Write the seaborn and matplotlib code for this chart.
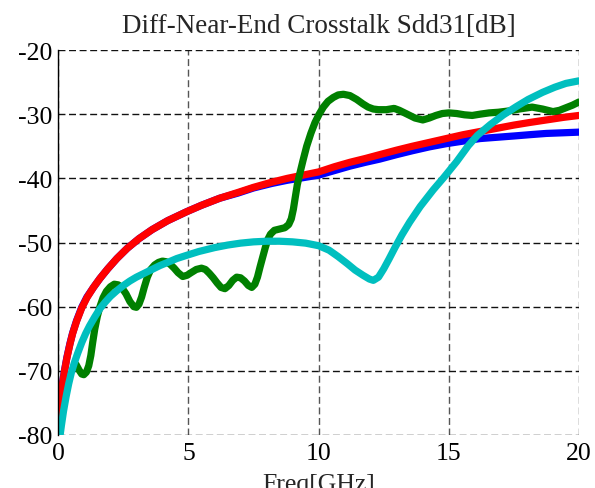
import matplotlib
matplotlib.use("Agg")
import matplotlib.pyplot as plt
import seaborn as sns
import pandas as pd

# Frequency sweep [GHz] and differential near-end crosstalk [dB]
red_freq = [0, 0.02, 0.05, 0.1, 0.17, 0.24, 0.33, 0.45, 0.55, 0.7, 0.9, 1.1, 1.35, 1.6,
            1.9, 2.25, 2.65, 3.1, 3.6, 4.2, 4.93, 5.5, 6.2, 6.9, 7.5, 8.2, 8.8, 9.4,
            10.0, 10.6, 11.2, 11.8, 12.35, 13.0, 13.6, 14.25, 14.9, 15.55, 16.2,
            16.85, 17.5, 18.1, 18.75, 19.4, 20]
red_db = [-80, -78.5, -76.5, -74.3, -71.8, -70.0, -68.0, -65.8, -64.2, -62.3, -60.2,
          -58.6, -57.0, -55.6, -54.1, -52.5, -50.9, -49.4, -48.0, -46.6, -45.2, -44.2,
          -43.1, -42.2, -41.4, -40.6, -40.0, -39.5, -39.0, -38.2, -37.5, -36.9, -36.3,
          -35.6, -35.0, -34.4, -33.8, -33.2, -32.7, -32.2, -31.7, -31.3, -30.9, -30.5,
          -30.2]

blue_freq = red_freq
blue_db = [-80, -78.4, -76.4, -74.2, -71.7, -69.9, -67.9, -65.7, -64.1, -62.2, -60.1,
           -58.5, -57.0, -55.6, -54.1, -52.5, -50.9, -49.4, -48.0, -46.6, -45.2, -44.2,
           -43.1, -42.3, -41.5, -40.8, -40.3, -39.9, -39.5, -38.8, -38.1, -37.5, -37.0,
           -36.3, -35.7, -35.1, -34.6, -34.2, -33.8, -33.6, -33.4, -33.2, -33.0, -32.9,
           -32.8]

green_freq = [0.68, 0.8, 0.9, 0.98, 1.08, 1.17, 1.25, 1.32, 1.4, 1.5, 1.6, 1.72, 1.85,
              2.0, 2.15, 2.3, 2.45, 2.6, 2.75, 2.9, 3.0, 3.1, 3.2, 3.3, 3.42, 3.55, 3.7,
              3.85, 4.0, 4.15, 4.3, 4.45, 4.6, 4.78, 4.95, 5.1, 5.3, 5.5, 5.65, 5.8,
              5.95, 6.1, 6.25, 6.4, 6.55, 6.7, 6.85, 7.0, 7.15, 7.3, 7.43, 7.55, 7.65,
              7.75, 7.85, 7.95, 8.05, 8.15, 8.3, 8.5, 8.7, 8.85, 8.95, 9.03, 9.1, 9.18,
              9.28, 9.4, 9.54, 9.7, 9.86, 10.02, 10.18, 10.36, 10.56, 10.75, 10.95,
              11.2, 11.46, 11.7, 11.9, 12.1, 12.3, 12.6, 12.9, 13.1, 13.4, 13.7, 14.0,
              14.25, 14.5, 14.75, 15.0, 15.3, 15.6, 15.9, 16.2, 16.55, 16.9, 17.3,
              17.7, 18.2, 18.6, 19.0, 19.25, 19.5, 19.75, 20]
green_db = [-69.0, -69.9, -70.5, -70.6, -70.2, -69.2, -67.6, -65.6, -63.5, -61.5, -60.0,
            -58.6, -57.6, -56.9, -56.5, -56.6, -57.1, -58.0, -59.2, -60.0, -60.1, -59.6,
            -58.5, -57.0, -55.4, -54.2, -53.5, -53.1, -52.9, -53.0, -53.4, -54.0, -54.7,
            -55.3, -55.1, -54.7, -54.2, -54.0, -54.2, -54.8, -55.5, -56.3, -57.0, -57.2,
            -56.7, -55.9, -55.4, -55.5, -56.0, -56.7, -57.0, -56.5, -55.4, -53.8, -52.3,
            -50.8, -49.5, -48.7, -48.1, -47.9, -47.7, -47.2, -46.3, -44.8, -43.0, -41.0,
            -39.2, -37.2, -35.0, -33.0, -31.3, -30.0, -28.9, -28.0, -27.4, -27.0, -26.9,
            -27.1, -27.7, -28.4, -28.9, -29.2, -29.3, -29.3, -29.1, -29.4, -30.0, -30.6,
            -30.9, -30.6, -30.2, -29.9, -29.8, -29.9, -30.1, -30.2, -30.0, -29.8, -29.7,
            -29.5, -29.2, -28.9, -29.2, -29.6, -29.4, -29.0, -28.6, -28.1]

cyan_freq = [0.07, 0.12, 0.2, 0.3, 0.4, 0.5, 0.62, 0.75, 0.9, 1.05, 1.2, 1.4, 1.6, 1.8,
             2.0, 2.25, 2.5, 2.75, 3.0, 3.3, 3.6, 3.9, 4.2, 4.55, 4.93, 5.4, 6.0, 6.5,
             7.0, 7.5, 8.0, 8.5, 9.0, 9.5, 10.0, 10.4, 10.75, 11.1, 11.4, 11.7, 11.95,
             12.1, 12.3, 12.5, 12.7, 12.93, 13.2, 13.5, 13.9, 14.4, 14.8, 15.3, 15.75,
             16.1, 16.6, 17.1, 17.6, 18.05, 18.6, 19.07, 19.5, 20]
cyan_db = [-80, -78.5, -76.3, -74.0, -72.0, -70.3, -68.7, -67.2, -65.6, -64.2, -63.0,
           -61.6, -60.3, -59.3, -58.4, -57.5, -56.7, -56.0, -55.4, -54.8, -54.2, -53.6,
           -53.1, -52.5, -52.0, -51.4, -50.8, -50.4, -50.1, -49.9, -49.8, -49.8, -49.9,
           -50.1, -50.5, -51.2, -52.2, -53.3, -54.3, -55.1, -55.7, -55.9, -55.4, -54.1,
           -52.6, -50.8, -48.8, -46.8, -44.4, -41.8, -39.9, -37.4, -34.9, -33.3, -31.6,
           -30.1, -28.8, -27.7, -26.6, -25.8, -25.2, -24.8]

x_ticks = [0, 5, 10, 15, 20]
y_ticks = [-80, -70, -60, -50, -40, -30, -20]

sns.set_style("white")
plt.rcParams["font.family"] = ["Liberation Serif", "DejaVu Serif"]
plt.rcParams["lines.scale_dashes"] = False

fig = plt.figure(figsize=(5.95, 4.89), dpi=100)
ax = fig.add_axes([58.3 / 595, 1 - 436 / 489, (579 - 58.3) / 595, (436 - 51) / 489])

series = [
    (blue_freq, blue_db, "#0000ff"),
    (red_freq, red_db, "#ff0000"),
    (green_freq, green_db, "#008000"),
    (cyan_freq, cyan_db, "#00bfbf"),
]
for fr, db, col in series:
    df = pd.DataFrame({"freq": fr, "db": db})
    sns.lineplot(data=df, x="freq", y="db", color=col, lw=5.2, ax=ax,
                 estimator=None, sort=False, solid_capstyle="round",
                 solid_joinstyle="round", zorder=3)

ax.set_xlim(0, 20)
ax.set_ylim(-80, -20)
ax.set_xticks(x_ticks)
ax.set_yticks(y_ticks)
ax.set_xticklabels([str(t) for t in x_ticks])
ax.set_yticklabels([str(t) for t in y_ticks])

ax.xaxis.grid(True, color="#555555", linestyle=(0, (5, 2.6)), linewidth=1.0)
ax.yaxis.grid(True, color="#111111", linestyle=(0, (5, 2.6)), linewidth=1.0)
ax.set_axisbelow(True)

for side in ("top", "right", "bottom"):
    ax.spines[side].set_visible(False)
ax.spines["left"].set_color("black")
ax.spines["left"].set_linewidth(1.0)
ax.spines["left"].set_zorder(4)

ax.tick_params(axis="both", direction="in", length=4.5, width=0.8, color="black",
               labelsize=18.5, labelcolor="black")
ax.tick_params(axis="x", pad=5)
ax.tick_params(axis="y", pad=4)

ax.set_title("Diff-Near-End Crosstalk Sdd31[dB]", fontsize=19.5, pad=13)
ax.set_xlabel("Freq[GHz]", fontsize=18.5)
ax.xaxis.set_label_coords(0.5, -0.1)
ax.set_ylabel("")

fig.savefig("out.png", dpi=100)
